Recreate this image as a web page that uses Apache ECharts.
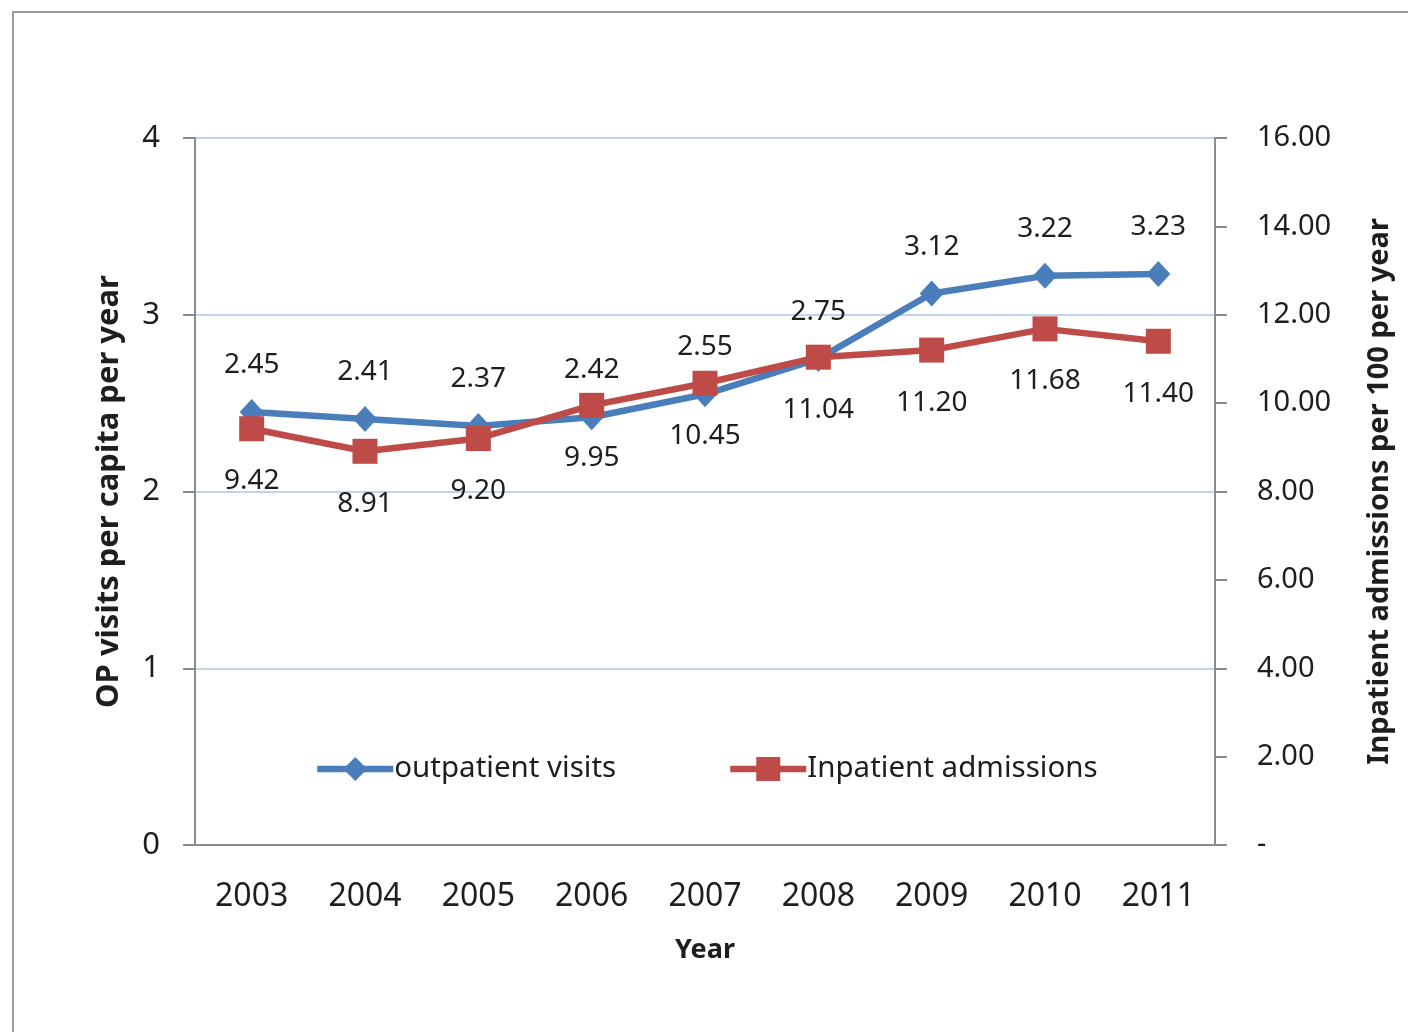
<!DOCTYPE html>
<html>
<head>
<meta charset="utf-8">
<style>
  html, body { margin: 0; padding: 0; background: #fff; }
  #chart { width: 1408px; height: 1032px; }
</style>
<script src="https://cdn.jsdelivr.net/npm/echarts@6/dist/echarts.min.js"></script>
</head>
<body>
<div id="chart"></div>
<script>
// Outpatient visits per capita and inpatient admissions per 100, by year
const years = ['2003', '2004', '2005', '2006', '2007', '2008', '2009', '2010', '2011'];
const outpatientVisits = [2.45, 2.41, 2.37, 2.42, 2.55, 2.75, 3.12, 3.22, 3.23];
const inpatientAdmissions = [9.42, 8.91, 9.20, 9.95, 10.45, 11.04, 11.20, 11.68, 11.40];
const leftTicks = { min: 0, max: 4, interval: 1 };
const rightTicks = { min: 0, max: 16, interval: 2 };

const FONT = '"Noto Sans", "Open Sans", sans-serif';
const TEXT = '#1e1e1e';
const AXIS = '#8c8c8c';
const BLUE = '#4a7ebb';
const RED = '#be4b48';

const chart = echarts.init(document.getElementById('chart'), null, { renderer: 'canvas' });

const legendCommon = {
  top: 749,
  itemWidth: 76, itemHeight: 30, itemGap: 0,
  lineStyle: { width: 6.5 },
  textStyle: { fontFamily: FONT, fontSize: 29.5, color: TEXT, padding: [0, 0, 0, -4] }
};

chart.setOption({
  backgroundColor: '#ffffff',
  animation: false,
  textStyle: { fontFamily: FONT, color: TEXT },
  graphic: [{
    type: 'rect',
    shape: { x: 13, y: 12, width: 1440, height: 1060 },
    style: { fill: 'none', stroke: '#9a9a9a', lineWidth: 2 },
    silent: true
  }],
  grid: { left: 195, right: 193, top: 138, bottom: 187 },
  legend: [
    Object.assign({ data: ['outpatient visits'], left: 309 }, legendCommon),
    Object.assign({ data: ['Inpatient admissions'], left: 722 }, legendCommon)
  ],
  xAxis: {
    type: 'category',
    data: years,
    boundaryGap: true,
    name: 'Year',
    nameLocation: 'middle',
    nameGap: 92,
    nameTextStyle: { fontFamily: FONT, fontSize: 27, fontWeight: 'bold', color: TEXT },
    axisLine: { lineStyle: { color: AXIS, width: 2 } },
    axisTick: { show: false },
    axisLabel: { fontFamily: FONT, fontSize: 32, color: TEXT, margin: 36 },
    splitLine: { show: false }
  },
  yAxis: [
    {
      type: 'value',
      min: leftTicks.min, max: leftTicks.max, interval: leftTicks.interval,
      name: 'OP visits per capita per year',
      nameLocation: 'middle',
      nameGap: 70,
      nameRotate: 90,
      nameTextStyle: { fontFamily: FONT, fontSize: 31, fontWeight: 'bold', color: TEXT },
      axisLine: { show: true, lineStyle: { color: AXIS, width: 2 } },
      axisTick: { show: true, inside: false, length: 12, lineStyle: { color: AXIS, width: 2 } },
      axisLabel: { fontFamily: FONT, fontSize: 31, color: TEXT, margin: 35 },
      splitLine: { show: true, lineStyle: { color: '#c3d3ec', width: 2 } }
    },
    {
      type: 'value',
      position: 'right',
      min: rightTicks.min, max: rightTicks.max, interval: rightTicks.interval,
      name: 'Inpatient admissions per 100 per year',
      nameLocation: 'middle',
      nameGap: 150,
      nameRotate: 90,
      nameTextStyle: { fontFamily: FONT, fontSize: 29, fontWeight: 'bold', color: TEXT },
      axisLine: { show: true, lineStyle: { color: AXIS, width: 2 } },
      axisTick: { show: true, inside: false, length: 12, lineStyle: { color: AXIS, width: 2 } },
      axisLabel: {
        fontFamily: FONT, fontSize: 29, color: TEXT, margin: 42,
        formatter: v => (v === 0 ? '-' : v.toFixed(2))
      },
      splitLine: { show: false }
    }
  ],
  series: [
    {
      name: 'outpatient visits',
      type: 'line',
      yAxisIndex: 0,
      data: outpatientVisits,
      symbol: 'diamond',
      symbolSize: [24, 26],
      itemStyle: { color: BLUE },
      lineStyle: { color: BLUE, width: 6.5 },
      z: 3,
      label: {
        show: true, position: 'top', distance: 20,
        fontFamily: FONT, fontSize: 28, color: TEXT,
        formatter: p => p.value.toFixed(2)
      }
    },
    {
      name: 'Inpatient admissions',
      type: 'line',
      yAxisIndex: 1,
      data: inpatientAdmissions,
      symbol: 'rect',
      symbolSize: 25,
      itemStyle: { color: RED },
      lineStyle: { color: RED, width: 6.5 },
      z: 4,
      label: {
        show: true, position: 'bottom', distance: 26,
        fontFamily: FONT, fontSize: 28, color: TEXT,
        formatter: p => p.value.toFixed(2)
      }
    }
  ]
});
</script>
</body>
</html>
